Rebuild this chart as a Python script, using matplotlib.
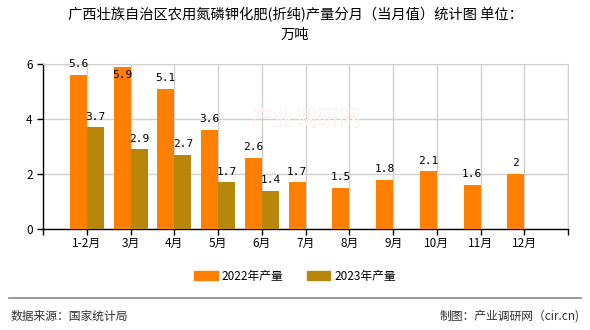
import numpy as np
import matplotlib
matplotlib.use("Agg")
import matplotlib.pyplot as plt
from matplotlib.patches import Patch

plt.rcParams['font.family'] = ['Noto Sans CJK SC', 'DejaVu Sans']

months = ['1-2月', '3月', '4月', '5月', '6月', '7月', '8月', '9月', '10月', '11月', '12月']
prod_2022 = [5.6, 5.9, 5.1, 3.6, 2.6, 1.7, 1.5, 1.8, 2.1, 1.6, 2]
prod_2023 = [3.7, 2.9, 2.7, 1.7, 1.4]
c2022 = '#FF8000'
c2023 = '#B8860B'

fig = plt.figure(figsize=(5.9, 3.3), dpi=100)
ax = fig.add_axes([0.073, 0.306, 0.89, 0.5])

x = np.arange(len(months))
w = 0.39
ax.bar(x - w / 2, prod_2022, width=w, color=c2022, zorder=3)
x23 = np.arange(len(prod_2023))
ax.bar(x23 + w / 2, prod_2023, width=w, color=c2023, zorder=3)

def label(xs, vals):
    for xi, v in zip(xs, vals):
        txt = f'{v:g}'
        if v > 5.8:
            ax.annotate(txt, (xi, v), xytext=(0, -2), textcoords='offset points',
                        ha='center', va='top', fontsize=8, family='DejaVu Sans Mono', zorder=4)
        else:
            ax.annotate(txt, (xi, v), xytext=(0, 4), textcoords='offset points',
                        ha='center', va='bottom', fontsize=8, family='DejaVu Sans Mono', zorder=4)

label(x - w / 2, prod_2022)
label(x23 + w / 2, prod_2023)

ax.set_xlim(-1, 11)
ax.set_ylim(0, 6)
ax.set_yticks([0, 2, 4, 6])
ax.set_xticks(np.arange(-1, 12))
ax.set_xticklabels([''] + months + [''], fontsize=8.5)
ax.tick_params(axis='y', labelsize=8.5, length=4, width=1)
ax.tick_params(axis='x', length=4, width=1, pad=2)
ax.grid(True, color='#d0d0d0', linewidth=1, zorder=0)
for s in ['top', 'right']:
    ax.spines[s].set_color('#d0d0d0')
for s in ['left', 'bottom']:
    ax.spines[s].set_color('black')
    ax.spines[s].set_linewidth(1)
ax.set_axisbelow(True)

# faint watermark
ax.text(5, 4, '产业调研网', fontsize=16, color='#fcf3f1', ha='center', va='center', zorder=1)

fig.text(0.5, 0.955, '广西壮族自治区农用氮磷钾化肥(折纯)产量分月（当月值）统计图 单位：', ha='center',
         va='center', fontsize=10.3)
fig.text(0.5, 0.893, '万吨', ha='center', va='center', fontsize=10.3)

handles = [Patch(color=c2022), Patch(color=c2023)]
fig.legend(handles, ['2022年产量', '2023年产量'], loc='center', bbox_to_anchor=(0.5, 0.163),
           ncol=2, frameon=False, fontsize=8.5, handlelength=2.0, handleheight=0.8,
           columnspacing=2.0, handletextpad=0.3)

fig.add_artist(plt.Line2D([0.015, 0.985], [0.097, 0.097], color='#888888', linewidth=1.2))
fig.text(0.018, 0.042, '数据来源：国家统计局', ha='left', va='center', fontsize=8.5, color='#333333')
fig.text(0.982, 0.042, '制图：产业调研网（cir.cn)', ha='right', va='center', fontsize=8.5, color='#333333')

fig.savefig('out.png', dpi=100)
